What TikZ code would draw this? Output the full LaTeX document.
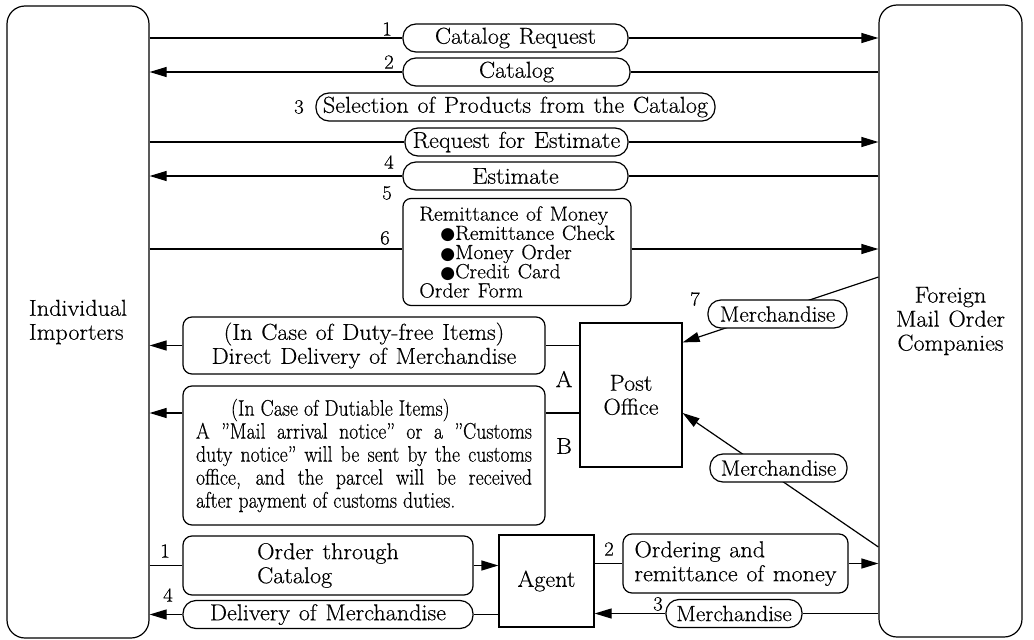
\documentclass[tikz,border=0pt]{standalone}
\usepackage{fontspec}
\setmainfont{Latin Modern Roman}[FakeStretch=1.05,WordSpace=1.2,FakeBold=0.4]
\newfontfamily\dutyfont{Latin Modern Roman}[Ligatures=TeX,FakeStretch=0.88,FakeBold=0.4]
\newfontfamily\dejavu{DejaVu Sans}
\usetikzlibrary{arrows.meta,backgrounds}
\newcommand\fmain{\fontsize{23}{24}\selectfont}
\newcommand\fmerch{\fontsize{22}{24}\selectfont}
\newcommand\fsmall{\fontsize{20.5}{19.2}\selectfont}
\newcommand\fduty{\dutyfont\fontsize{22.5}{23}\selectfont}
\newcommand\fnum{\fontsize{20}{20}\selectfont}
\newcommand\blt{{\dejavu\fontsize{17}{15}\selectfont ●}}
\begin{document}
\begin{tikzpicture}[x=1pt,y=-1pt,line width=1.2pt,
  every node/.style={inner sep=0pt,font=\fmain},
  bigbox/.style={draw,rounded corners=18pt},
  rbox/.style={draw,fill=white,rounded corners=9pt},
  pill/.style={draw,fill=white,rounded corners=13pt,minimum height=28pt},
  sqbox/.style={draw,fill=white},
  conn/.style={line width=1.2pt},
  arr/.style={line width=1.2pt,-{Triangle[length=17pt,width=10pt]}},
  num/.style={font=\fnum},
  lab/.style={font=\fmain}]
\begin{scope}[on background layer]
\fill[white] (0,0) rectangle (1034,640);
\end{scope}
\useasboundingbox (0,0) rectangle (1034,640);

% main participants
\node[bigbox,minimum width=142pt,minimum height=632pt,align=left] (L) at (78,322) {Individual\\Importers};
\node[bigbox,minimum width=143pt,minimum height=632pt,align=center] (R) at (950.5,321) {Foreign\\Mail Order\\Companies};

% upper flow
\node[pill,minimum width=225pt] (CR) at (515.5,38) {Catalog Request};
\node[pill,minimum width=227pt] (CT) at (516.5,72) {Catalog};
\node[pill,minimum width=399pt] (SEL) at (515.5,107) {Selection of Products from the Catalog};
\node[pill,minimum width=223pt] (RE) at (516.5,142) {Request for Estimate};
\node[pill,minimum width=225pt] (ES) at (515.5,176) {Estimate};
\node[rbox,rounded corners=8pt,minimum width=228pt,minimum height=107pt,align=left,font=\fsmall] (RM) at (517,252)
  {Remittance of Money\\\hspace*{21pt}\blt Remittance Check\\\hspace*{21pt}\blt Money Order\\\hspace*{21pt}\blt Credit Card\\Order Form};

\node[num] (n1) at (387,29) {1};
\node[num] (n2) at (389,62) {2};
\node[num] (n3) at (299,107) {3};
\node[num] (n4) at (389,162) {4};
\node[num] (n5) at (387,193) {5};
\node[num] (n6) at (385,238) {6};
\node[num] (n7) at (695,299) {7};

% post office part
\node[sqbox,minimum width=102pt,minimum height=144pt,align=center] (PO) at (631,395) {Post\\Office};
\node[rbox,minimum width=362pt,minimum height=57pt,align=center] (DF) at (364,345.5)
  {(In Case of Duty-free Items)\\Direct Delivery of Merchandise};
\node[rbox,minimum width=362pt,minimum height=139pt,align=left,font=\fduty] (DB) at (364,455.5)
  {\hspace*{35pt}(In Case of Dutiable Items)\\
   \makebox[336pt][s]{A ''Mail arrival notice'' or a ''Customs}\\
   \makebox[336pt][s]{duty notice'' will be sent by the customs}\\
   \makebox[336pt][s]{office, and the parcel will be received}\\
   after payment of customs duties.};
\node[lab] (la) at (564,379) {A};
\node[lab] (lb) at (564,446) {B};
\node[pill,minimum width=139pt,font=\fmerch] (M7) at (777.5,314) {Merchandise};
\node[pill,minimum width=137pt,font=\fmerch] (MM) at (778.5,468) {Merchandise};

% agent part
\node[rbox,minimum width=290pt,minimum height=59pt,align=left] (OC) at (328,565.5) {Order through\\Catalog};
\node[sqbox,minimum width=95pt,minimum height=92pt] (AG) at (546.5,581) {Agent};
\node[rbox,minimum width=225pt,minimum height=59pt,align=left] (ORM) at (735.5,563.5) {Ordering and\\remittance of money};
\node[pill,minimum width=136pt,font=\fmerch] (M3) at (734,613.5) {Merchandise};
\node[pill,minimum width=290pt] (DM) at (328,614.5) {Delivery of Merchandise};
\node[num] (b1) at (165,551) {1};
\node[num] (b4) at (168,595) {4};
\node[num] (b2) at (609,549) {2};
\node[num] (b3) at (658,604) {3};

% connectors: upper flow
\draw[conn] (L.east |- CR.west) -- (CR.west);
\draw[arr] (CR.east) -- (R.west |- CR.east);
\draw[conn] (R.west |- CT.east) -- (CT.east);
\draw[arr] (CT.west) -- (L.east |- CT.west);
\draw[conn] (L.east |- RE.west) -- (RE.west);
\draw[arr] (RE.east) -- (R.west |- RE.east);
\draw[conn] (R.west |- ES.east) -- (ES.east);
\draw[arr] (ES.west) -- (L.east |- ES.west);
\coordinate (rm) at ([yshift=3pt]RM.west);
\draw[conn] (L.east |- rm) -- (rm);
\draw[arr] (RM.east |- rm) -- (R.west |- rm);

% connectors: post office
\coordinate (r7) at ([yshift=44pt]R.west);
\coordinate (p7) at ([yshift=-20pt]PO.north east);
\coordinate (rm2) at ([yshift=-226pt]R.west);
\coordinate (pm) at ([yshift=-18pt]PO.east);
\begin{scope}[on background layer]
\draw[arr] (r7) -- (p7);
\draw[arr] (rm2) -- (pm);
\end{scope}
\draw[conn] (PO.west |- DF.east) -- (DF.east);
\draw[arr] (DF.west) -- (L.east |- DF.west);
\coordinate (pb) at ([yshift=-18pt]PO.west);
\draw[conn] (pb) -- (DB.east |- pb);
\draw[arr] (DB.west |- pb) -- (L.east |- pb);

% connectors: agent
\draw[conn] (L.east |- OC.west) -- (OC.west);
\draw[arr] (OC.east) -- (AG.west |- OC.east);
\draw[conn] (AG.east |- ORM.west) -- (ORM.west);
\draw[arr] (ORM.east) -- (R.west |- ORM.east);
\draw[conn] (R.west |- M3.east) -- (M3.east);
\draw[arr] (M3.west) -- (AG.east |- M3.west);
\draw[conn] (AG.west |- DM.east) -- (DM.east);
\draw[arr] (DM.west) -- (L.east |- DM.west);
\end{tikzpicture}
\end{document}
